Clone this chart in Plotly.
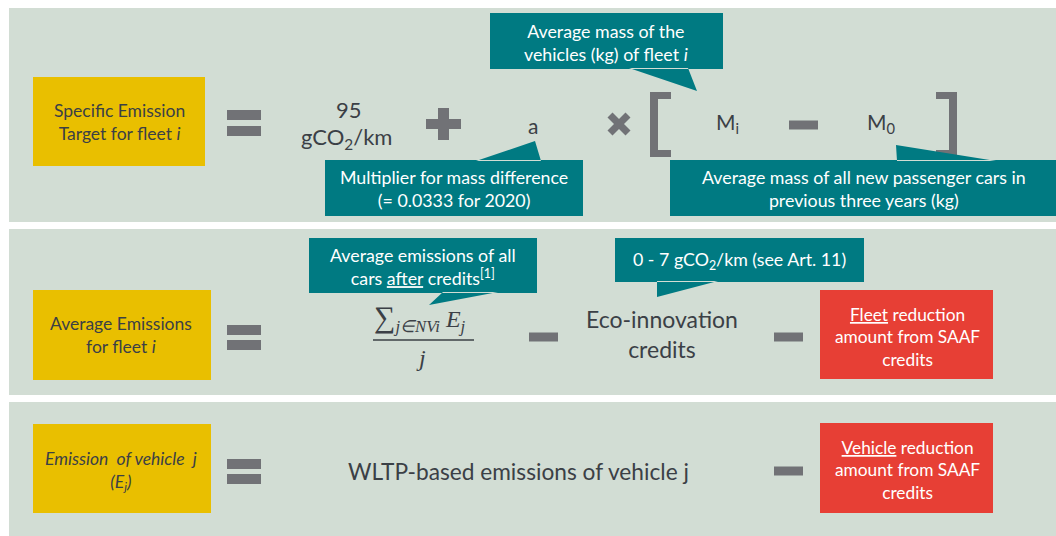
import plotly.graph_objects as go

# ---------------- content (text of the diagram) ----------------
row_labels = [
    "Specific Emission<br>Target for fleet <i>i</i>",
    "Average Emissions<br>for fleet <i>i</i>",
    "<i>Emission  of vehicle  j<br>(E<sub>j</sub>)</i>",
]
row1_terms = ["95", "gCO<sub>2</sub>/km", "a", "M<sub>i</sub>", "M<sub>0</sub>"]
row1_callouts = [
    "Average mass of the<br>vehicles (kg) of fleet <i>i</i>",
    "Multiplier for mass difference<br>(= 0.0333 for 2020)",
    "Average mass of all new passenger cars in<br>previous three years (kg)",
]
row2_terms = ["<span style='font-size:30px'>∑</span><sub>j∈NVi</sub> E<sub>j</sub>", "j",
              "Eco-innovation<br>credits"]
row2_callouts = [
    "Average emissions of all<br>cars <u>after</u> credits<sup>[1]</sup>",
    "0 - 7 gCO<sub>2</sub>/km (see Art. 11)",
]
red_labels = [
    "<u>Fleet</u> reduction<br>amount from SAAF<br>credits",
    "<u>Vehicle</u> reduction<br>amount from SAAF<br>credits",
]
row3_terms = ["WLTP-based emissions of vehicle j"]

# ---------------- style ----------------
W, H = 1056, 536
PANEL = "#d2ddd4"
YELLOW = "#e9bf00"
TEAL = "#007a82"
RED = "#e73f35"
OPG = "#717276"
TXT = "#3b4046"
FONT = "Lato"
CALL = 17.8

fig = go.Figure()
shapes = []
annos = []


def rect(x0, y0, x1, y1, color):
    shapes.append(dict(type="rect", xref="x", yref="y", x0=x0, y0=y0, x1=x1, y1=y1,
                       fillcolor=color, line=dict(width=0), layer="below"))


def callout(x0, y0, x1, y1, tri, color=TEAL):
    p = f"M{x0},{y0} L{x1},{y0} L{x1},{y1} L{x0},{y1} Z "
    p += "M" + " L".join(f"{a},{b}" for a, b in tri) + " Z"
    shapes.append(dict(type="path", xref="x", yref="y", path=p, fillcolor=color,
                       line=dict(width=0), layer="below"))


def text(x, y, t, size, color=TXT, family=FONT, xanchor="center"):
    annos.append(dict(x=x, y=y, xref="x", yref="y", text=t, showarrow=False,
                      xanchor=xanchor, yanchor="middle",
                      font=dict(size=size, color=color, family=family)))


def equals(cy1, cy2):
    rect(227, cy1 - 5, 261, cy1 + 5, OPG)
    rect(227, cy2 - 5, 261, cy2 + 5, OPG)


def minus(x0, x1, cy):
    rect(x0, cy - 4.5, x1, cy + 4.5, OPG)


# panels
rect(9, 8, W, 222, PANEL)
rect(9, 229, W, 395, PANEL)
rect(9, 402, W, H, PANEL)

# ---------- row 1 ----------
rect(33, 77, 205, 166, YELLOW)
text(119, 122, row_labels[0], 17.5)
equals(115, 131)
text(349, 109, row1_terms[0], 22)
text(346, 138, row1_terms[1], 22)
# plus
rect(426, 119, 461, 129, OPG)
rect(438, 108, 449, 140, OPG)
text(533, 125, row1_terms[2], 21)
# multiply
shapes.append(dict(type="line", xref="x", yref="y", x0=610, y0=115, x1=628, y1=133,
                   line=dict(color=OPG, width=7)))
shapes.append(dict(type="line", xref="x", yref="y", x0=628, y0=115, x1=610, y1=133,
                   line=dict(color=OPG, width=7)))
# brackets
rect(650, 92, 658, 157, OPG)
rect(650, 92, 671, 99, OPG)
rect(650, 150, 671, 157, OPG)
rect(949, 92, 957, 157, OPG)
rect(936, 92, 957, 99, OPG)
rect(936, 150, 957, 157, OPG)
text(727, 123, row1_terms[3], 21)
minus(789, 818, 125)
text(881, 123, row1_terms[4], 21)
# callouts
callout(490, 13, 723, 69, [(629, 68), (688, 68), (697, 91)])
text(606, 42, row1_callouts[0], CALL, color="white")
callout(325, 160, 583, 216, [(476, 161), (541, 161), (535, 141)])
text(454, 188, row1_callouts[1], CALL, color="white")
callout(670, 160, W, 216, [(897, 161), (996, 161), (896, 145)])
text(864, 188, row1_callouts[2], CALL, color="white")

# ---------- row 2 ----------
rect(33, 290, 211, 380, YELLOW)
text(121, 335, row_labels[1], 17.5)
equals(330, 345)
callout(309, 238, 537, 293, [(443, 292), (498, 292), (429, 305)])
text(423, 266, row2_callouts[0], CALL, color="white")
text(420, 318, "<i>" + row2_terms[0] + "</i>", 24, family="Liberation Serif")
shapes.append(dict(type="line", xref="x", yref="y", x0=373, y0=340, x1=474, y1=340,
                   line=dict(color=TXT, width=1.5)))
text(421, 358, "<i>" + row2_terms[1] + "</i>", 24, family="Liberation Serif")
minus(529, 558, 337)
text(662, 334, row2_terms[2], 23)
callout(615, 238, 864, 282, [(657, 281), (718, 281), (657, 297)])
text(739, 260, row2_callouts[1], CALL, color="white")
minus(774, 803, 337)
rect(820, 290, 993, 379, RED)
text(907, 337, red_labels[0], 17.3, color="white")

# ---------- row 3 ----------
rect(33, 424, 211, 513, YELLOW)
text(121, 471, row_labels[2], 17.5)
equals(464, 479)
text(518, 471, row3_terms[0], 22.7)
minus(774, 803, 471)
rect(820, 423, 993, 513, RED)
text(907, 470, red_labels[1], 17.3, color="white")

fig.update_layout(
    width=W, height=H,
    margin=dict(l=0, r=0, t=0, b=0),
    paper_bgcolor="white", plot_bgcolor="white",
    xaxis=dict(range=[0, W], visible=False, fixedrange=True),
    yaxis=dict(range=[H, 0], visible=False, fixedrange=True),
    shapes=shapes, annotations=annos, showlegend=False,
)
fig.write_html("out.html", config={"displayModeBar": False},
               post_script="document.body.style.margin='0';")
